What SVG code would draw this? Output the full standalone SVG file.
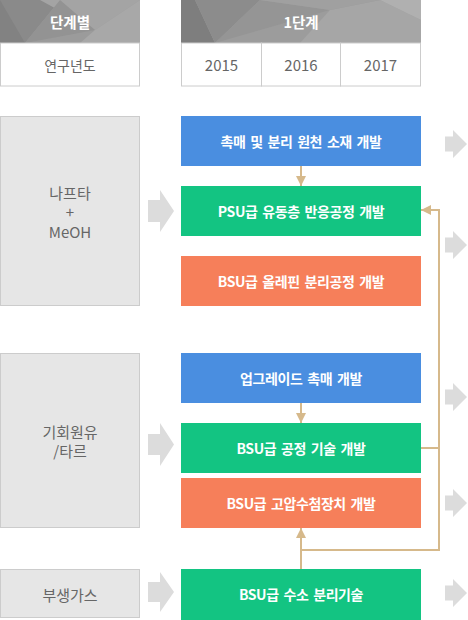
<svg xmlns="http://www.w3.org/2000/svg" width="468" height="620" viewBox="0 0 468 620">
<defs>
<marker id="ah" markerUnits="userSpaceOnUse" markerWidth="10" markerHeight="10" viewBox="0 0 10 10" refX="10" refY="5" orient="auto">
<path d="M0,0 L10,5 L0,10 z" fill="#d6b98b"/>
</marker>
<clipPath id="c1"><rect x="0" y="0" width="140" height="43"/></clipPath>
<clipPath id="c2"><rect x="181" y="0" width="240" height="43"/></clipPath>
</defs>
<style>
text{font-family:"Noto Sans CJK KR","Noto Sans",sans-serif;text-anchor:middle;dominant-baseline:central}
.hd{fill:#fff;font-size:14.5px;font-weight:bold}
.yr{fill:#666;font-size:15px}
.lb{fill:#666;font-size:14px}
.cell{fill:#fff;stroke:#ccc;stroke-width:1}
.src{fill:#e6e6e6;stroke:#ccc;stroke-width:1}
.st{fill:#666;font-size:15px}
.nt{fill:#fff;font-size:14px;font-weight:bold;letter-spacing:-0.4px;word-spacing:2px}
.blue{fill:#4a8ee0}
.green{fill:#13c482}
.orange{fill:#f67f5a}
.ga{fill:#dcdcdc}
.con{fill:none;stroke:#d6b98b;stroke-width:2}
</style>
<g id="header-left">
<g clip-path="url(#c1)">
<rect x="0" y="0" width="140" height="43" fill="#9b9b9b"/>
<polygon points="0,0 40,0 25,43 0,43" fill="#828282"/>
<polygon points="0,0 60,0 25,43" fill="#8a8a8a"/>
<polygon points="40,0 140,0 95,30" fill="#a4a4a4"/>
<polygon points="60,0 95,30 25,43" fill="#939393"/>
<polygon points="95,30 140,0 140,43 80,43" fill="#a8a8a8"/>
</g>
<text class="hd" x="70" y="21">단계별</text>
<rect class="cell" x="0.5" y="43" width="139" height="43"/>
<text class="lb" x="70" y="64.5">연구년도</text>
</g>
<g id="header-right">
<g clip-path="url(#c2)">
<rect x="181" y="0" width="240" height="43" fill="#9c9c9c"/>
<polygon points="181,0 195,0 215,43 181,43" fill="#7e7e7e"/>
<polygon points="195,0 260,0 215,43" fill="#8c8c8c"/>
<polygon points="260,0 330,10 215,43" fill="#959595"/>
<polygon points="330,10 380,0 421,20 421,43 300,43" fill="#a6a6a6"/>
<polygon points="260,0 380,0 330,10" fill="#a0a0a0"/>
<polygon points="380,0 421,0 421,20" fill="#b0b0b0"/>
</g>
<text class="hd" x="301" y="21">1단계</text>
<rect class="cell" x="181.5" y="43" width="80" height="43"/>
<rect class="cell" x="261.5" y="43" width="79" height="43"/>
<rect class="cell" x="340.5" y="43" width="80" height="43"/>
<text class="yr" x="221.5" y="64.5">2015</text>
<text class="yr" x="301" y="64.5">2016</text>
<text class="yr" x="380.5" y="64.5">2017</text>
</g>
<g id="src-naphtha">
<rect class="src" x="0.5" y="116.5" width="139" height="189"/>
<text class="st" x="70" y="192">나프타</text>
<text class="st" x="70" y="211.5">+</text>
<text class="st" x="70" y="231">MeOH</text>
</g>
<g id="src-crude">
<rect class="src" x="0.5" y="353.5" width="139" height="174"/>
<text class="st" x="70" y="431">기회원유</text>
<text class="st" x="70" y="450">/타르</text>
</g>
<g id="src-gas">
<rect class="src" x="0.5" y="569.5" width="139" height="48"/>
<text class="st" x="70" y="594">부생가스</text>
</g>
<g id="in-arrows">
<polygon class="ga" points="148,200 160,200 160,190 174,211 160,232 160,222 148,222"/>
<polygon class="ga" points="148,434 160,434 160,423 174,444.5 160,466 160,455 148,455"/>
<polygon class="ga" points="148,582 160,582 160,572 174,592 160,612 160,602 148,602"/>
</g>
<g id="n1">
<rect class="blue" x="181" y="116" width="240" height="50"/>
<text class="nt" x="301" y="141">촉매 및 분리 원천 소재 개발</text>
</g>
<g id="n2">
<rect class="green" x="181" y="186" width="240" height="50"/>
<text class="nt" x="301" y="211">PSU급 유동층 반응공정 개발</text>
</g>
<g id="n3">
<rect class="orange" x="181" y="256" width="240" height="50"/>
<text class="nt" x="301" y="281">BSU급 올레핀 분리공정 개발</text>
</g>
<g id="n4">
<rect class="blue" x="181" y="353" width="240" height="50"/>
<text class="nt" x="301" y="378">업그레이드 촉매 개발</text>
</g>
<g id="n5">
<rect class="green" x="181" y="423" width="240" height="50"/>
<text class="nt" x="301" y="448">BSU급 공정 기술 개발</text>
</g>
<g id="n6">
<rect class="orange" x="181" y="478" width="240" height="50"/>
<text class="nt" x="301" y="503">BSU급 고압수첨장치 개발</text>
</g>
<g id="n7">
<rect class="green" x="181" y="569" width="240" height="51"/>
<text class="nt" x="301" y="594">BSU급 수소 분리기술</text>
</g>
<g id="out-arrows">
<polygon class="ga" points="445,136.5 453,136.5 453,130 467,144 453,158 453,151.5 445,151.5"/>
<polygon class="ga" points="445,237.5 453,237.5 453,231 467,245 453,259 453,252.5 445,252.5"/>
<polygon class="ga" points="445,389.5 453,389.5 453,383 467,397 453,411 453,404.5 445,404.5"/>
<polygon class="ga" points="445,495.5 453,495.5 453,489 467,503 453,517 453,510.5 445,510.5"/>
<polygon class="ga" points="445,585.5 453,585.5 453,579 467,593 453,607 453,600.5 445,600.5"/>
</g>
<g id="connectors">
<path class="con" d="M301,166 V186" marker-end="url(#ah)"/>
<path class="con" d="M301,403 V423" marker-end="url(#ah)"/>
<path class="con" d="M439,551 V210 H421" marker-end="url(#ah)"/>
<path class="con" d="M421,448 H439"/>
<path class="con" d="M440,550 H301"/>
<path class="con" d="M301,569 V528" marker-end="url(#ah)"/>
</g>
</svg>
